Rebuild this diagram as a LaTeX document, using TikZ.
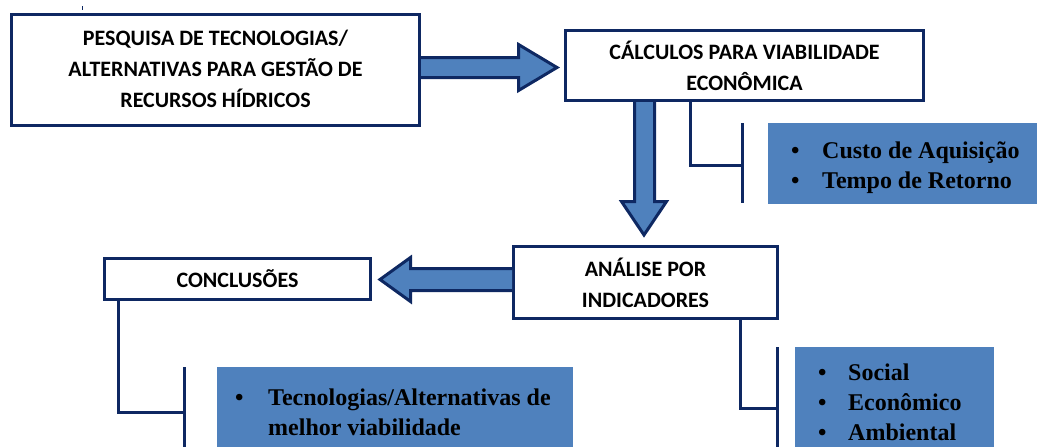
\documentclass[tikz,border=0pt]{standalone}
\usepackage{fontspec}
\setmainfont{Liberation Serif}
\newfontfamily\boxfont{Carlito}
\newfontfamily\serfont{Liberation Serif}
\usetikzlibrary{calc}
\definecolor{navy}{RGB}{14,40,98}
\definecolor{fillblue}{RGB}{79,129,189}
\begin{document}
\begin{tikzpicture}[x=1pt,y=-1pt,
  box/.style={draw=navy, line width=3pt, fill=white, align=center, inner sep=0pt,
    font=\boxfont\bfseries\fontsize{22}{31}\selectfont},
  panel/.style={fill=fillblue, inner sep=0pt},
  ptext/.style={anchor=north west, inner sep=0pt, align=left,
    font=\serfont\bfseries\fontsize{24}{30}\selectfont},
  blockarrow/.style={draw=navy, line width=3pt, fill=fillblue, line join=miter},
  link/.style={draw=navy, line width=3pt}]
\useasboundingbox (0,0) rectangle (1038,447);

% boxes
\node[box, minimum width=408pt, minimum height=111pt] (b1) at (215.5,70)
  {\raisebox{3pt}{\begin{tabular}{@{}c@{}}PESQUISA DE TECNOLOGIAS/\\ALTERNATIVAS PARA GESTÃO DE\\RECURSOS HÍDRICOS\end{tabular}}};
\node[box, minimum width=358pt, minimum height=70pt] (b2) at (744.5,65.5)
  {CÁLCULOS PARA VIABILIDADE\\ECONÔMICA};
\node[box, minimum width=264pt, minimum height=72pt] (b3) at (645.5,282.5)
  {ANÁLISE POR\\INDICADORES};
\node[box, minimum width=266pt, minimum height=41pt] (b4) at (237.5,279)
  {CONCLUSÕES};

% blue panels
\node[panel, minimum width=269pt, minimum height=81pt] (c1) at (902.5,163.5) {};
\node[panel, minimum width=199pt, minimum height=100pt] (c2) at (894.5,397) {};
\node[panel, minimum width=356pt, minimum height=80pt] (c3) at (395,407) {};

\node[ptext] (c1t) at (791,142)
  {\makebox[31pt][l]{\textbullet}Custo de Aquisição\\\makebox[31pt][l]{\textbullet}Tempo de Retorno};
\node[ptext] (c2t) at (818,364)
  {\makebox[30pt][l]{\textbullet}Social\\\makebox[30pt][l]{\textbullet}Econômico\\\makebox[30pt][l]{\textbullet}Ambiental};
\node[ptext] (c3t) at (235,389)
  {\makebox[33pt][l]{\textbullet}Tecnologias/Alternativas de\\\hspace*{33pt}melhor viabilidade};

% block arrows
\filldraw[blockarrow] (b1.east |- 0,57.5) -- (518.5,57.5) -- (518.5,44.5)
  -- ($(b2.west |- 0,67.5)+(-7,0)$) -- (518.5,90.5) -- (518.5,77.5) -- (b1.east |- 0,77.5);
\filldraw[blockarrow] (b2.south -| 634.5,0) -- (634.5,201.5) -- (621.5,201.5)
  -- ($(b3.north -| 644,0)+(0,-10)$) -- (666.5,201.5) -- (654.5,201.5) -- (b2.south -| 654.5,0);
\filldraw[blockarrow] (b3.west |- 0,268.5) -- (410.5,268.5) -- (410.5,257.5)
  -- ($(b4.east |- 0,279.5)+(8,0)$) -- (410.5,301.5) -- (410.5,290.5) -- (b3.west |- 0,290.5);

% bracket connectors
\coordinate (k1) at (742,165);
\coordinate (k2) at (777,408);
\coordinate (k3) at (184,412);
\draw[link] (b2.south -| 690,0) |- (k1);
\draw[link] (k1 |- 0,123) -- (k1 |- 0,203);
\draw[link] (b3.south -| 740,0) |- (k2);
\draw[link] (k2 |- 0,347) -- (k2 |- 0,447);
\draw[link] (b4.south -| 118,0) |- (k3);
\draw[link] (k3 |- 0,367) -- (k3 |- 0,447);

% small mark above first box
\draw[navy, line width=1pt] (82,6) -- (82,10);
\end{tikzpicture}
\end{document}
